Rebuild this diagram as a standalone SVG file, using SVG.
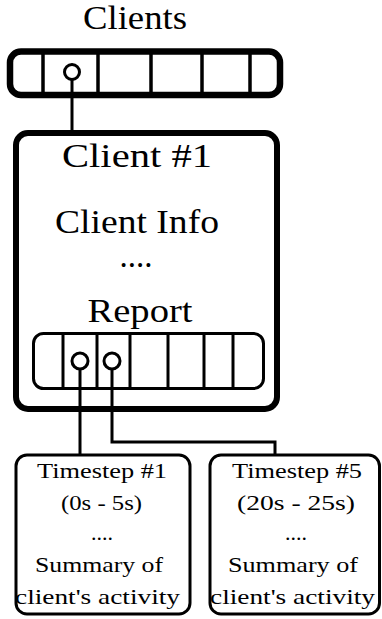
<svg xmlns="http://www.w3.org/2000/svg" width="382" height="619" viewBox="0 0 382 619">
<style>
text{font-family:"Liberation Serif","Times New Roman",serif;fill:#000;text-anchor:middle}
.big{font-size:33px}
.small{font-size:22px}
.port{fill:#fff;stroke:#000;stroke-width:3}
.div{stroke:#000;stroke-width:3.5}
.div2{stroke:#000;stroke-width:3}
.wire{fill:none;stroke:#000;stroke-width:3}
.box{fill:none;stroke:#000}
</style>
<rect width="382" height="619" fill="#fff"/>
<g id="connectors">
<line class="wire" x1="72" y1="80" x2="72" y2="133"/>
<line class="wire" x1="80" y1="369" x2="80" y2="455"/>
<polyline class="wire" points="112,369 112,442 275,442 275,455"/>
</g>
<g id="clients">
<text class="big" x="135" y="29" textLength="104" lengthAdjust="spacingAndGlyphs">Clients</text>
<rect class="box" x="10" y="51.5" width="270" height="43.5" rx="11" stroke-width="6.5"/>
<line class="div" x1="43" y1="51" x2="43" y2="95"/>
<line class="div" x1="98" y1="51" x2="98" y2="95"/>
<line class="div" x1="151" y1="51" x2="151" y2="95"/>
<line class="div" x1="202" y1="51" x2="202" y2="95"/>
<line class="div" x1="250" y1="51" x2="250" y2="95"/>
<circle class="port" cx="72" cy="72" r="7.5"/>
</g>
<g id="client1">
<rect class="box" x="16" y="133" width="261" height="276" rx="12" stroke-width="6"/>
<text class="big" x="137" y="167" textLength="150" lengthAdjust="spacingAndGlyphs">Client #1</text>
<text class="big" x="137" y="233" textLength="164" lengthAdjust="spacingAndGlyphs">Client Info</text>
<text class="big" x="136" y="267">....</text>
<text class="big" x="140" y="322" textLength="105" lengthAdjust="spacingAndGlyphs">Report</text>
</g>
<g id="report">
<rect class="box" x="33.5" y="333.5" width="230" height="55" rx="10" stroke-width="3"/>
<line class="div2" x1="63" y1="333" x2="63" y2="389"/>
<line class="div2" x1="97" y1="333" x2="97" y2="389"/>
<line class="div2" x1="130" y1="333" x2="130" y2="389"/>
<line class="div2" x1="168" y1="333" x2="168" y2="389"/>
<line class="div2" x1="204" y1="333" x2="204" y2="389"/>
<line class="div2" x1="233" y1="333" x2="233" y2="389"/>
<circle class="port" cx="80" cy="361" r="8"/>
<circle class="port" cx="112" cy="361" r="8"/>
</g>
<g id="timestep1">
<rect class="box" x="16" y="455" width="174" height="159" rx="11" stroke-width="3"/>
<text class="small" x="102" y="478" textLength="130" lengthAdjust="spacingAndGlyphs">Timestep #1</text>
<text class="small" x="101.5" y="510" textLength="81" lengthAdjust="spacingAndGlyphs">(0s - 5s)</text>
<text class="small" x="102" y="540">....</text>
<text class="small" x="99" y="572" textLength="128" lengthAdjust="spacingAndGlyphs">Summary of</text>
<text class="small" x="97.5" y="604" textLength="165" lengthAdjust="spacingAndGlyphs">client's activity</text>
</g>
<g id="timestep5">
<rect class="box" x="210" y="455" width="169.5" height="159" rx="11" stroke-width="3"/>
<text class="small" x="297" y="478" textLength="130" lengthAdjust="spacingAndGlyphs">Timestep #5</text>
<text class="small" x="296" y="510" textLength="118" lengthAdjust="spacingAndGlyphs">(20s - 25s)</text>
<text class="small" x="296" y="540">....</text>
<text class="small" x="293" y="572" textLength="130" lengthAdjust="spacingAndGlyphs">Summary of</text>
<text class="small" x="292.5" y="604" textLength="165" lengthAdjust="spacingAndGlyphs">client's activity</text>
</g>
</svg>
